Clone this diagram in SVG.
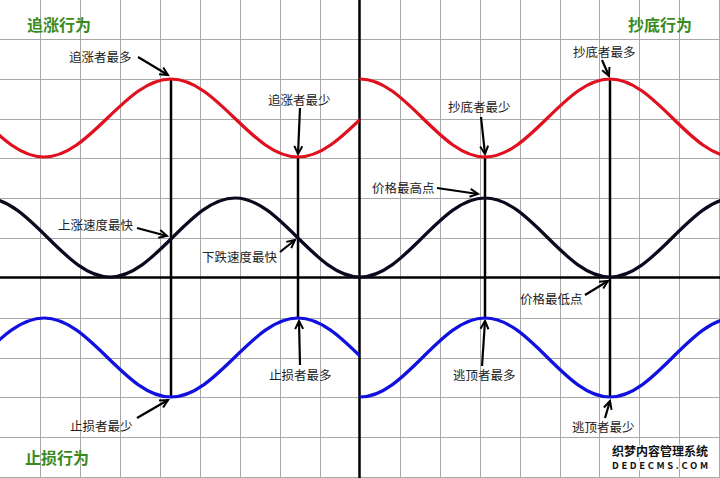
<svg xmlns="http://www.w3.org/2000/svg" width="720" height="478" viewBox="0 0 720 478">
<style>
.grid line{stroke:#a8a8a8;stroke-width:1}
.axis{stroke:#000;stroke-width:2.5}
.vline{stroke:#000;stroke-width:2.5}
.curve{fill:none;stroke-width:3.2;stroke-linecap:round}
.lbl{font-family:"Noto Sans CJK SC","Noto Sans",sans-serif;font-size:12.5px;fill:#222}
.ttl{font-family:"Noto Sans CJK SC","Noto Sans",sans-serif;font-size:16px;font-weight:bold;fill:#3a8a1e}
.arr{stroke:#000;stroke-width:2.2;fill:none;marker-end:url(#ah)}
.wm{font-family:"Noto Sans CJK SC","DejaVu Sans",sans-serif;font-weight:bold;fill:#111;stroke:#fff;stroke-width:2.5;paint-order:stroke}
</style>
<defs>
<marker id="ah" markerUnits="userSpaceOnUse" markerWidth="12" markerHeight="12" refX="9" refY="5" orient="auto">
<path d="M1,1 L9,5 L1,9" fill="none" stroke="#000" stroke-width="2"/>
</marker>
<clipPath id="cl"><rect x="0" y="0" width="359.5" height="478"/></clipPath>
<clipPath id="cr"><rect x="359.5" y="0" width="361" height="478"/></clipPath>
</defs>
<rect width="720" height="478" fill="#fff"/>
<g class="grid">
<line x1="40.5" y1="0" x2="40.5" y2="478"/><line x1="80.5" y1="0" x2="80.5" y2="478"/><line x1="120.5" y1="0" x2="120.5" y2="478"/><line x1="160.5" y1="0" x2="160.5" y2="478"/><line x1="200.5" y1="0" x2="200.5" y2="478"/><line x1="240.5" y1="0" x2="240.5" y2="478"/><line x1="280.5" y1="0" x2="280.5" y2="478"/><line x1="320.5" y1="0" x2="320.5" y2="478"/><line x1="400.5" y1="0" x2="400.5" y2="478"/><line x1="440.5" y1="0" x2="440.5" y2="478"/><line x1="480.5" y1="0" x2="480.5" y2="478"/><line x1="520.5" y1="0" x2="520.5" y2="478"/><line x1="560.5" y1="0" x2="560.5" y2="478"/><line x1="599.5" y1="0" x2="599.5" y2="478"/><line x1="639.5" y1="0" x2="639.5" y2="478"/><line x1="679.5" y1="0" x2="679.5" y2="478"/><line x1="719.5" y1="0" x2="719.5" y2="478"/>
<line x1="0" y1="39.5" x2="720" y2="39.5"/><line x1="0" y1="79.5" x2="720" y2="79.5"/><line x1="0" y1="119.5" x2="720" y2="119.5"/><line x1="0" y1="158.5" x2="720" y2="158.5"/><line x1="0" y1="198.5" x2="720" y2="198.5"/><line x1="0" y1="238.5" x2="720" y2="238.5"/><line x1="0" y1="318.5" x2="720" y2="318.5"/><line x1="0" y1="358.5" x2="720" y2="358.5"/><line x1="0" y1="397.5" x2="720" y2="397.5"/><line x1="0" y1="437.5" x2="720" y2="437.5"/><line x1="0" y1="477.5" x2="720" y2="477.5"/>
</g>
<g id="axes">
<line class="axis" x1="0" y1="277.5" x2="720" y2="277.5"/>
<line class="axis" x1="359.5" y1="0" x2="359.5" y2="478"/>
</g>
<g id="markers">
<line class="vline" x1="171" y1="79" x2="171" y2="397"/>
<line class="vline" x1="298" y1="157" x2="298" y2="318"/>
<line class="vline" x1="485" y1="157" x2="485" y2="318"/>
<line class="vline" x1="610" y1="79" x2="610" y2="397"/>
</g>
<g id="curve-red">
<path class="curve" stroke="#e0101e" clip-path="url(#cl)" d="M-19.5,118 C1.21,137.98 21.02,157 44,157 C66.98,157 86.79,137.98 107.5,118 C128.21,98.02 148.02,79 171,79 C193.98,79 213.79,98.02 234.5,118 C255.21,137.98 275.02,157 298,157 C320.98,157 340.79,137.98 361.5,118"/>
<path class="curve" stroke="#e0101e" clip-path="url(#cr)" d="M360,79 C382.62,79 402.12,98.02 422.5,118 C442.88,137.98 462.38,157 485,157 C507.62,157 527.12,137.98 547.5,118 C567.88,98.02 587.38,79 610,79 C632.62,79 652.12,98.02 672.5,118 C692.88,137.98 712.38,157 735,157"/>
</g>
<g id="curve-price">
<path class="curve" stroke="#0a0a1e" d="M-15,198 C7.62,198 27.12,217.26 47.5,237.5 C67.88,257.74 87.38,277 110,277 C132.62,277 152.12,257.74 172.5,237.5 C192.88,217.26 212.38,198 235,198 C257.62,198 277.12,217.26 297.5,237.5 C317.88,257.74 337.38,277 360,277 C382.62,277 402.12,257.74 422.5,237.5 C442.88,217.26 462.38,198 485,198 C507.62,198 527.12,217.26 547.5,237.5 C567.88,257.74 587.38,277 610,277 C632.62,277 652.12,257.74 672.5,237.5 C692.88,217.26 712.38,198 735,198"/>
</g>
<g id="curve-blue">
<path class="curve" stroke="#1010e0" clip-path="url(#cl)" d="M-19.5,357.5 C1.21,337.26 21.02,318 44,318 C66.98,318 86.79,337.26 107.5,357.5 C128.21,377.74 148.02,397 171,397 C193.98,397 213.79,377.74 234.5,357.5 C255.21,337.26 275.02,318 298,318 C320.98,318 340.79,337.26 361.5,357.5"/>
<path class="curve" stroke="#1010e0" clip-path="url(#cr)" d="M360,397 C382.62,397 402.12,377.74 422.5,357.5 C442.88,337.26 462.38,318 485,318 C507.62,318 527.12,337.26 547.5,357.5 C567.88,377.74 587.38,397 610,397 C632.62,397 652.12,377.74 672.5,357.5 C692.88,337.26 712.38,318 735,318"/>
</g>
<g id="connectors">
<line class="arr" x1="138" y1="57" x2="168" y2="75"/>
<line class="arr" x1="300" y1="108" x2="298" y2="154"/>
<line class="arr" x1="602" y1="60" x2="609" y2="76"/>
<line class="arr" x1="481" y1="117" x2="485" y2="154"/>
<line class="arr" x1="137" y1="228" x2="167" y2="236"/>
<line class="arr" x1="280" y1="252" x2="295" y2="240"/>
<line class="arr" x1="437" y1="188" x2="478" y2="194"/>
<line class="arr" x1="585" y1="295" x2="608" y2="281"/>
<line class="arr" x1="137" y1="418" x2="168" y2="400"/>
<line class="arr" x1="300" y1="365" x2="299" y2="321"/>
<line class="arr" x1="482" y1="366" x2="485" y2="321"/>
<line class="arr" x1="605" y1="418" x2="610" y2="401"/>
</g>
<g id="titles">
<text class="ttl" x="27" y="31">追涨行为</text>
<text class="ttl" x="628" y="31">抄底行为</text>
<text class="ttl" x="25" y="464">止损行为</text>
</g>
<g id="label-zhuizhang-most"><text class="lbl" x="69" y="62">追涨者最多</text></g>
<g id="label-zhuizhang-least"><text class="lbl" x="268" y="105">追涨者最少</text></g>
<g id="label-chaodi-most"><text class="lbl" x="573" y="57">抄底者最多</text></g>
<g id="label-chaodi-least"><text class="lbl" x="448" y="112">抄底者最少</text></g>
<g id="label-rise-fastest"><text class="lbl" x="58" y="230">上涨速度最快</text></g>
<g id="label-fall-fastest"><text class="lbl" x="202" y="262">下跌速度最快</text></g>
<g id="label-price-high"><text class="lbl" x="372" y="193">价格最高点</text></g>
<g id="label-price-low"><text class="lbl" x="520" y="304">价格最低点</text></g>
<g id="label-stop-least"><text class="lbl" x="70" y="431">止损者最少</text></g>
<g id="label-stop-most"><text class="lbl" x="269" y="380">止损者最多</text></g>
<g id="label-escape-most"><text class="lbl" x="453" y="380">逃顶者最多</text></g>
<g id="label-escape-least"><text class="lbl" x="572" y="432">逃顶者最少</text></g>
<g id="watermark">
<text class="wm" x="612" y="456" font-size="12" textLength="96" lengthAdjust="spacingAndGlyphs">织梦内容管理系统</text>
<text class="wm" x="612" y="469" font-size="9.5" textLength="96" lengthAdjust="spacing">DEDECMS.COM</text>
</g>
</svg>
